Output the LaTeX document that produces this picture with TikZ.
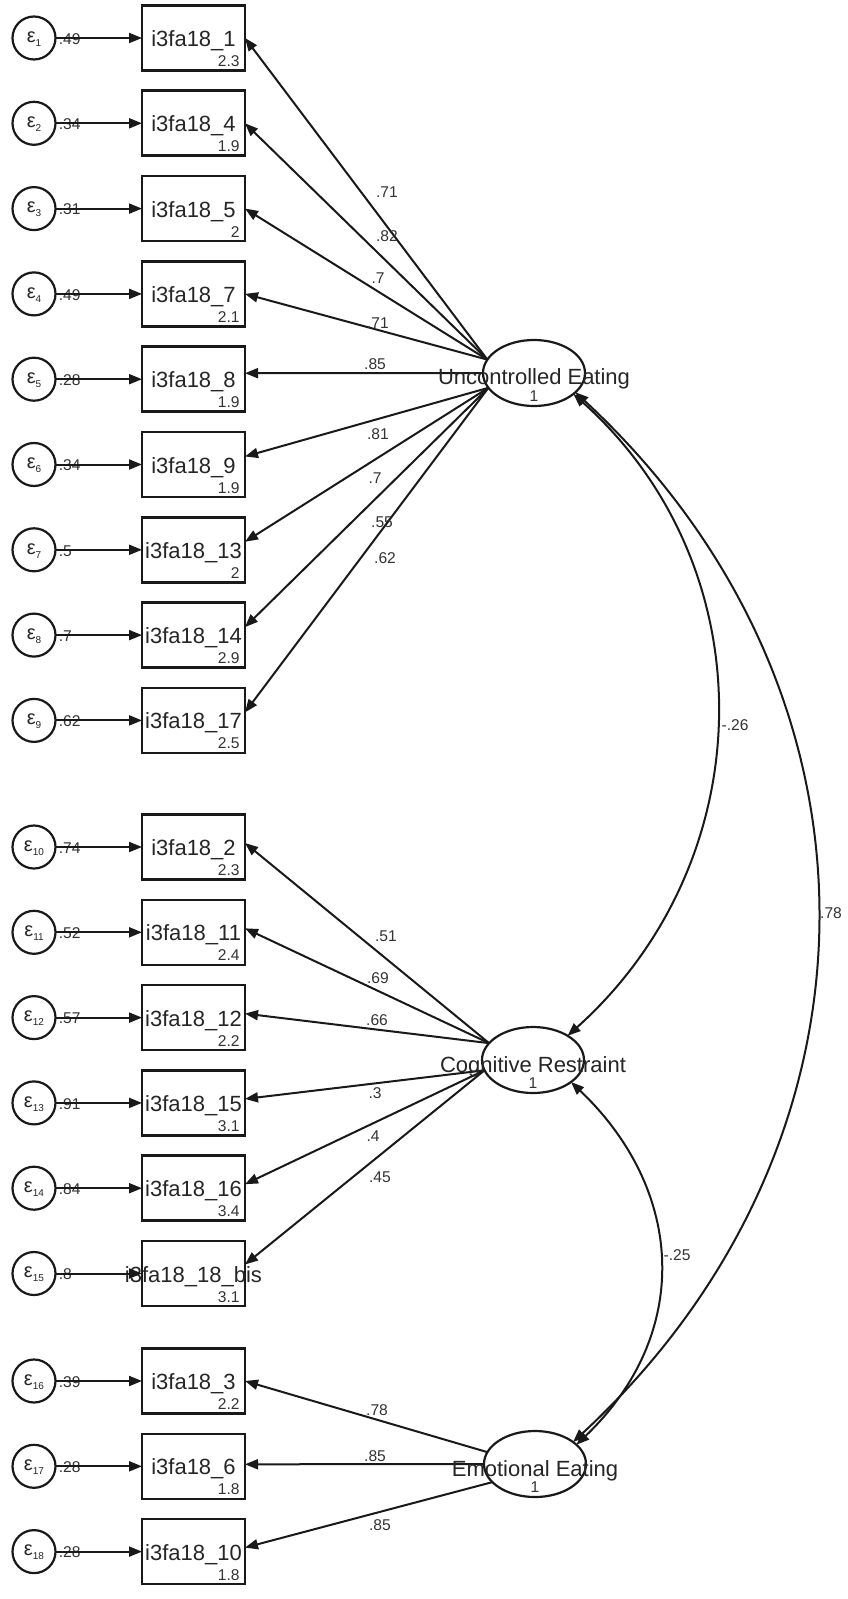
\documentclass[tikz,border=0pt]{standalone}
\usepackage{fontspec}
\setmainfont{Liberation Sans}
\usetikzlibrary{arrows.meta,calc,shapes.geometric}
\begin{document}
\begin{tikzpicture}[x=0.5pt,y=-0.5pt,
  obs/.style={draw=black!90,line width=1.3pt,minimum width=51.5pt,minimum height=32.5pt,inner sep=0pt,outer sep=0pt},
  lat/.style={draw=black!90,ellipse,line width=1.1pt,minimum width=51pt,minimum height=33pt,inner sep=0pt,outer sep=0pt},
  err/.style={draw=black!90,circle,line width=1.1pt,minimum size=21.5pt,inner sep=0pt,outer sep=0pt},
  ln/.style={line width=1pt,draw=black!90,-{Triangle[length=6.5pt,width=5pt]}},
  cov/.style={line width=1pt,draw=black!90,{Triangle[length=6.5pt,width=5pt]}-{Triangle[length=6.5pt,width=5pt]}},
  vtxt/.style={font=\fontsize{11}{12}\selectfont,text=black!85,inner sep=0pt,anchor=base},
  num/.style={font=\fontsize{7.8}{9}\selectfont,text=black!80,inner sep=0pt},
  etxt/.style={inner sep=0pt,text=black!85}
]
\fill[white] (0,0) rectangle (847,1599);
\useasboundingbox (0,0) rectangle (847,1599);

% latent variables
\node[lat] (UE) at (534,373) {};
\node[lat] (CR) at (533,1060) {};
\node[lat] (EE) at (535,1464) {};

% observed variables, errors, labels
\foreach \i/\y/\nm/\mu/\ev in {
  1/38/1/2.3/.49, 2/123.3/4/1.9/.34, 3/208.6/5/2/.31, 4/293.9/7/2.1/.49,
  5/379.2/8/1.9/.28, 6/464.5/9/1.9/.34, 7/549.8/13/2/.5, 8/635.1/14/2.9/.7,
  9/720.4/17/2.5/.62, 10/847/2/2.3/.74, 11/932.3/11/2.4/.52, 12/1017.6/12/2.2/.57,
  13/1102.9/15/3.1/.91, 14/1188.2/16/3.4/.84, 15/1273.5/18\_bis/3.1/.8,
  16/1381/3/2.2/.39, 17/1466.3/6/1.8/.28, 18/1551.6/10/1.8/.28}{
  \node[obs] (b\i) at (193.5,\y) {};
  \node[vtxt] (t\i) at ($(b\i.center)+(0,8.5)$) {i3fa18\_\nm};
  \node[num,anchor=base east] (m\i) at ($(b\i.south east)+(-5,-4)$) {\mu};
  \node[err] (e\i) at (34,\y) {};
  \node[etxt] (et\i) at ($(e\i.center)+(0,1)$) {\fontsize{10}{10}\selectfont ε\raisebox{-2pt}{\fontsize{5}{5}\selectfont \i}};
  \node[num,anchor=west] (ev\i) at ($(e\i.east)+(3,1)$) {\ev};
  \draw[ln] (e\i) -- (b\i);
}

% Uncontrolled Eating loadings
\draw[ln] (UE.164) -- (b1.east);
\draw[ln] (UE.164) -- (b2.east);
\draw[ln] (UE.164) -- (b3.east);
\draw[ln] (UE.164) -- (b4.east);
\draw[ln] (UE.west) -- ($(b5.east)+(0,-6)$);
\draw[ln] (UE.198) -- ($(b6.east)+(0,-8)$);
\draw[ln] (UE.198) -- ($(b7.east)+(0,-8)$);
\draw[ln] (UE.198) -- ($(b8.east)+(0,-8)$);
\draw[ln] (UE.198) -- ($(b9.east)+(0,-8)$);
\node[num] (p1) at (387,192) {.71};
\node[num] (p2) at (387,236) {.82};
\node[num] (p3) at (378,278) {.7};
\node[num] (p4) at (378,323) {.71};
\node[num] (p5) at (375,364) {.85};
\node[num] (p6) at (378,434) {.81};
\node[num] (p7) at (375,478) {.7};
\node[num] (p8) at (382,522) {.55};
\node[num] (p9) at (385,558) {.62};

% Cognitive Restraint loadings
\draw[ln] (CR.159) -- ($(b10.east)+(0,-4)$);
\draw[ln] (CR.159) -- ($(b11.east)+(0,-4)$);
\draw[ln] (CR.159) -- ($(b12.east)+(0,-4)$);
\draw[ln] (CR.192) -- ($(b13.east)+(0,-4)$);
\draw[ln] (CR.192) -- ($(b14.east)+(0,-4)$);
\draw[ln] (CR.192) -- ($(b15.east)+(0,-9)$);
\node[num] (p10) at (386,936) {.51};
\node[num] (p11) at (378,978) {.69};
\node[num] (p12) at (377,1020) {.66};
\node[num] (p13) at (375,1093) {.3};
\node[num] (p14) at (373,1136) {.4};
\node[num] (p15) at (380,1177) {.45};

% Emotional Eating loadings
\draw[ln] (EE.166) -- (b16.east);
\draw[ln] (EE.west) -- ($(b17.east)+(0,-2)$);
\draw[ln] (EE.203) -- ($(b18.east)+(0,-4)$);
\node[num] (p16) at (377,1410) {.78};
\node[num] (p17) at (375,1456) {.85};
\node[num] (p18) at (380,1525) {.85};

% covariances
\draw[cov] (UE.-28) .. controls +(195,175) and +(195,-175) .. (CR.35);
\draw[cov] (UE.-25) .. controls +(324,300) and +(324,-300) .. (EE.30);
\draw[cov] (CR.-30) .. controls +(115,110) and +(115,-110) .. (EE.25);
\node[num] (c1) at (735,725) {-.26};
\node[num] (c2) at (831,913) {.78};
\node[num] (c3) at (677,1255) {-.25};

% latent labels
\node[vtxt] (UEt) at ($(UE)+(0,12)$) {Uncontrolled Eating};
\node[num,anchor=base] (UEv) at ($(UE)+(0,28)$) {1};
\node[vtxt] (CRt) at ($(CR)+(0,12)$) {Cognitive Restraint};
\node[num,anchor=base] (CRv) at ($(CR)+(0,28)$) {1};
\node[vtxt] (EEt) at ($(EE)+(0,12)$) {Emotional Eating};
\node[num,anchor=base] (EEv) at ($(EE)+(0,28)$) {1};
\end{tikzpicture}
\end{document}
